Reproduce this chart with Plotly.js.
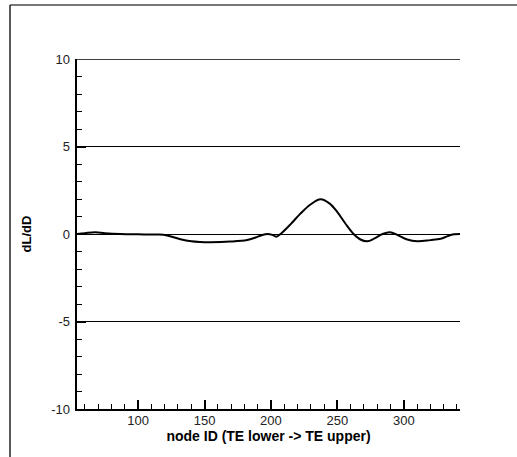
<!DOCTYPE html>
<html><head><meta charset="utf-8">
<script src="https://cdn.plot.ly/plotly-3.0.1.min.js"></script>
<style>html,body{margin:0;padding:0;background:#fff}#c{width:517px;height:457px}</style>
</head><body><div id="c"></div>
<script>
const nodeId = [54, 60, 67.8, 75, 86.6, 100, 114.3, 121.8, 131.8, 140, 146.9, 154.5, 169.5, 182.1, 188.4, 193, 197.4, 201, 204, 207.2, 214.7, 222, 230, 237.4, 244, 250, 256, 262.2, 267, 272.5, 278, 284, 289.6, 295, 302, 310.2, 320, 327.8, 333, 337.8, 342.3];
const dLdD   = [0, 0.05, 0.1, 0.05, 0.0, -0.02, -0.03, -0.08, -0.3, -0.42, -0.46, -0.47, -0.43, -0.34, -0.2, -0.07, 0.0, -0.05, -0.15, 0.0, 0.55, 1.15, 1.7, 1.98, 1.75, 1.25, 0.6, 0.0, -0.3, -0.42, -0.25, 0.0, 0.1, -0.05, -0.3, -0.42, -0.35, -0.27, -0.12, -0.02, 0];
const xTickStep = 50, xMinorStep = 10;
const yTickStep = 5, yMinorStep = 1;
const yTickVals = [-10, -5, 0, 5, 10];
const yTickText = ['-10', '-5', '0', '5', '10'];
const yGridTop = 10;

const L = 77, R = 460, T = 59, B = 409, W = 517, H = 457;
const px = p => (p - L) / (R - L);
const py = p => (B - p) / (B - T);

Plotly.newPlot('c', [{
  x: nodeId, y: dLdD, type: 'scatter', mode: 'lines',
  line: {color: '#000', width: 2, shape: 'spline', smoothing: 1.0},
  hoverinfo: 'skip'
}, {
  x: [nodeId[0]], y: [0], yaxis: 'y2', type: 'scatter', mode: 'none', hoverinfo: 'skip'
}], {
  width: W, height: H,
  margin: {l: L, r: W - R, t: T, b: H - B, pad: 0},
  paper_bgcolor: '#fff', plot_bgcolor: '#fff',
  showlegend: false,
  font: {family: 'Liberation Sans, Arial, sans-serif', color: '#000', size: 13},
  xaxis: {
    range: [54, 342.3], tickmode: 'linear', tick0: 0, dtick: xTickStep,
    ticks: 'inside', ticklen: 9, tickwidth: 2, tickcolor: '#000',
    minor: {dtick: xMinorStep, tick0: 0, ticks: 'inside', ticklen: 5, tickwidth: 1, tickcolor: '#000', showgrid: false},
    showline: true, linecolor: '#000', linewidth: 2, showgrid: false, zeroline: false,
    tickfont: {size: 13, color: '#222'}, ticklabelstandoff: -2,
    title: {text: '<b>node ID (TE lower -> TE upper)</b>', font: {size: 14, color: '#000'}, standoff: 0}
  },
  yaxis: {
    range: [-10, 10], tickmode: 'linear', tick0: 0, dtick: yTickStep,
    ticks: 'inside', ticklen: 9, tickwidth: 2, tickcolor: '#000',
    minor: {dtick: yMinorStep, tick0: 0, ticks: 'inside', ticklen: 5, tickwidth: 1, tickcolor: '#000', showgrid: false},
    showline: true, linecolor: '#000', linewidth: 2,
    showgrid: true, gridcolor: '#000', gridwidth: 1,
    zeroline: true, zerolinecolor: '#000', zerolinewidth: 1,
    showticklabels: false,
    title: {text: '<b>dL/dD</b>', font: {size: 13, color: '#000'}, standoff: 40}
  },
  yaxis2: {
    overlaying: 'y', side: 'left', range: [-10, 10],
    tickmode: 'array', tickvals: yTickVals, ticktext: yTickText,
    ticks: '', showline: false, showgrid: false, zeroline: false,
    tickfont: {size: 13, color: '#222'}, ticklabelstandoff: 6
  },
  shapes: [
    {type: 'line', xref: 'paper', yref: 'y', x0: 0, x1: 1, y0: yGridTop, y1: yGridTop, line: {color: '#000', width: 1.5}},
    {type: 'line', xref: 'paper', yref: 'paper', x0: px(10), x1: px(517), y0: py(5), y1: py(5), line: {color: '#777', width: 2}},
    {type: 'line', xref: 'paper', yref: 'paper', x0: px(10), x1: px(10), y0: py(5), y1: py(457), line: {color: '#222', width: 1.5}}
  ]
}, {staticPlot: true});
</script></body></html>
